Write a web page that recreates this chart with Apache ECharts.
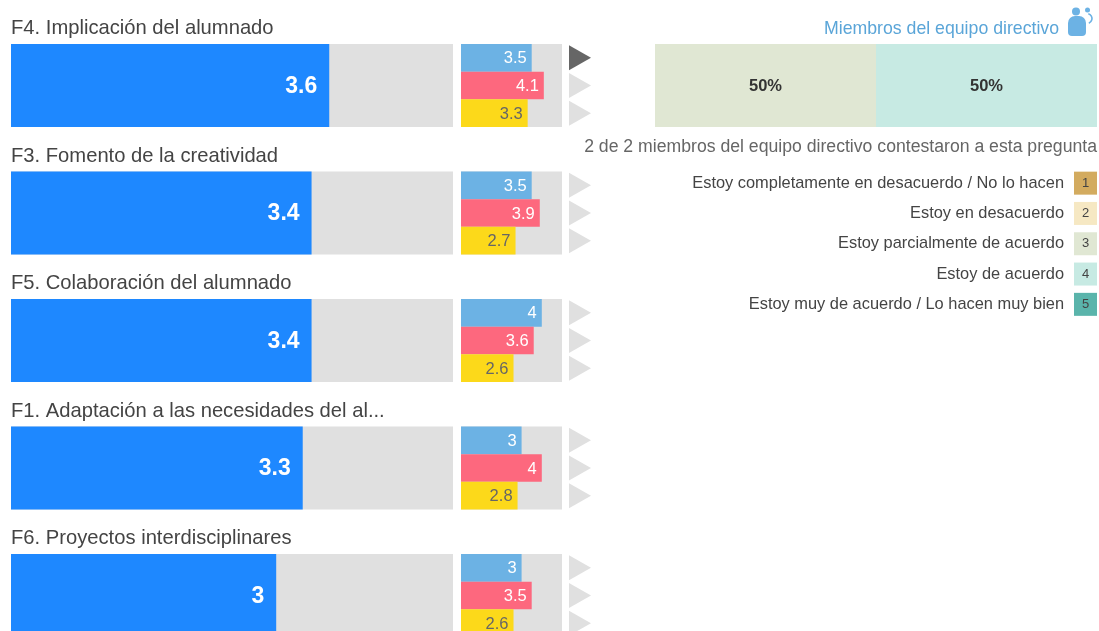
<!DOCTYPE html>
<html>
<head>
<meta charset="utf-8">
<title>Factores</title>
<script src="https://cdn.jsdelivr.net/npm/echarts@6/dist/echarts.min.js"></script>
<style>
html,body{margin:0;padding:0;background:#fff;}
#chart{width:1099px;height:631px;}
</style>
</head>
<body>
<div id="chart"></div>
<script>
// factores, ordenados como en el informe
var factorNames = ['F4. Implicación del alumnado','F3. Fomento de la creatividad','F5. Colaboración del alumnado','F1. Adaptación a las necesidades del al...','F6. Proyectos interdisciplinares'];
var overallValues = [3.6,3.4,3.4,3.3,3];
var teamValues = [3.5,3.5,4,3,3];
var familyValues = [4.1,3.9,3.6,4,3.5];
var studentValues = [3.3,2.7,2.6,2.8,2.6];
var groupColors = ['#6cb2e4','#fd687e','#fcd91a'];
var groupLabelColors = ['#fff','#fff','#666'];
var scaleMax = 5;
var selectedRow = 0;
var selectedGroup = 0;

var likertLabels = ['Estoy completamente en desacuerdo / No lo hacen','Estoy en desacuerdo','Estoy parcialmente de acuerdo','Estoy de acuerdo','Estoy muy de acuerdo / Lo hacen muy bien'];
var likertKeys = ['1','2','3','4','5'];
var likertColors = ['#d3ab5f','#f6e8c3','#e0e7d3','#c7eae3','#5ab4ab'];
var likertShares = [0,0,50,50,0];

var FONT = '"Liberation Sans", Arial, sans-serif';
var rowTop = 44, rowStep = 127.5, rowHeight = 83;
var grids = [], xAxes = [], yAxes = [], series = [], titles = [];

function addGrid(left, top, width, height, xMax, cats){
  grids.push({left:left, top:top, width:width, height:height, outerBoundsMode:'none'});
  var idx = grids.length - 1;
  xAxes.push({gridIndex:idx, type:'value', min:0, max:xMax, show:false});
  yAxes.push({gridIndex:idx, type:'category', inverse:true, data:cats, show:false});
  return idx;
}

factorNames.forEach(function(name, i){
  var top = rowTop + rowStep * i;
  titles.push({text:name, left:11, top:top-25.5, padding:0, textStyle:{fontFamily:FONT, fontSize:20.2, fontWeight:'normal', color:'#444'}});

  // barra grande
  var g1 = addGrid(11, top, 442, rowHeight, scaleMax, [name]);
  series.push({
    type:'bar', xAxisIndex:g1, yAxisIndex:g1, barWidth:'100%', silent:true,
    data:[overallValues[i]],
    itemStyle:{color:'#1e88ff'},
    showBackground:true, backgroundStyle:{color:'#e0e0e0'},
    label:{show:true, position:'insideRight', distance:12, offset:[0,1], color:'#fff', fontFamily:FONT, fontSize:23, fontWeight:'bold'}
  });

  // fondo gris de las tres barras pequeñas
  var g0 = addGrid(461, top, 101, rowHeight, scaleMax, ['fondo']);
  series.push({
    type:'bar', xAxisIndex:g0, yAxisIndex:g0, barWidth:'100%', silent:true,
    data:[scaleMax], itemStyle:{color:'#e0e0e0'}
  });

  var g2 = addGrid(461, top, 101, rowHeight, scaleMax, ['equipo','familias','alumnado']);
  var vals = [teamValues[i], familyValues[i], studentValues[i]];
  series.push({
    type:'bar', xAxisIndex:g2, yAxisIndex:g2, barWidth:'100%', silent:true, z:3,
    data:vals.map(function(v, k){
      return {value:v, itemStyle:{color:groupColors[k]}, label:{color:groupLabelColors[k]}};
    }),
    label:{show:true, position:'insideRight', distance:5, offset:[0,1], fontFamily:FONT, fontSize:16.5}
  });

  // triangulos de seleccion
  var g3 = addGrid(569, top, 22, rowHeight, 1, ['equipo','familias','alumnado']);
  series.push({
    type:'scatter', xAxisIndex:g3, yAxisIndex:g3, silent:true,
    symbol:'path://M0 0L22 12.5L0 25Z', symbolSize:[22,25],
    data:[0,1,2].map(function(k){
      var on = i === selectedRow && k === selectedGroup;
      return {value:[0.5,k], itemStyle:{color:on ? '#666' : '#e0e0e0', opacity:1}};
    })
  });
});

// barra apilada de respuestas
var g4 = addGrid(655, rowTop, 442, rowHeight, 100, ['respuestas']);
likertShares.forEach(function(v, i){
  series.push({
    type:'bar', stack:'likert', xAxisIndex:g4, yAxisIndex:g4, barWidth:'100%', silent:true,
    data:[v], itemStyle:{color:likertColors[i]},
    label:{show:v > 0, position:'inside', offset:[0,1], formatter:'{c}%', color:'#333', fontFamily:FONT, fontSize:16.5, fontWeight:'bold'}
  });
});

// leyenda de la escala
grids.push({left:1074, top:168, width:23, height:151.5, outerBoundsMode:'none'});
var g5 = grids.length - 1;
xAxes.push({gridIndex:g5, type:'value', min:0, max:1, show:false});
yAxes.push({
  gridIndex:g5, type:'category', inverse:true, data:likertLabels,
  axisLine:{show:false}, axisTick:{show:false},
  axisLabel:{color:'#444', fontFamily:FONT, fontSize:16.4, margin:10, interval:0}
});
series.push({
  type:'bar', xAxisIndex:g5, yAxisIndex:g5, barWidth:23, silent:true,
  data:likertColors.map(function(c, i){
    return {value:1, itemStyle:{color:c}, label:{formatter:likertKeys[i]}};
  }),
  label:{show:true, position:'inside', color:'#444', fontFamily:FONT, fontSize:13}
});

titles.push({text:'Miembros del equipo directivo', right:40, top:20.5, padding:0, textStyle:{fontFamily:FONT, fontSize:17.7, fontWeight:'normal', color:'#5aa5d8'}});
titles.push({text:'2 de 2 miembros del equipo directivo contestaron a esta pregunta', right:2, top:138.5, padding:0, textStyle:{fontFamily:FONT, fontSize:17.65, fontWeight:'normal', color:'#666'}});

var myChart = echarts.init(document.getElementById('chart'), null, {renderer:'canvas'});
myChart.setOption({
  animation:false,
  backgroundColor:'#fff',
  title:titles,
  grid:grids,
  xAxis:xAxes,
  yAxis:yAxes,
  series:series,
  graphic:[
    {type:'rect', shape:{x:1068, y:16, width:18, height:20, r:[7,7,4,4]}, style:{fill:'#6cb2e4'}},
    {type:'circle', shape:{cx:1076, cy:11.5, r:4}, style:{fill:'#6cb2e4'}},
    {type:'circle', shape:{cx:1087.5, cy:10, r:2.5}, style:{fill:'#6cb2e4'}},
    {type:'arc', shape:{cx:1087, cy:18.5, r:5, startAngle:-1.3, endAngle:1.2}, style:{fill:null, stroke:'#6cb2e4', lineWidth:1.6}}
  ]
});
</script>
</body>
</html>
